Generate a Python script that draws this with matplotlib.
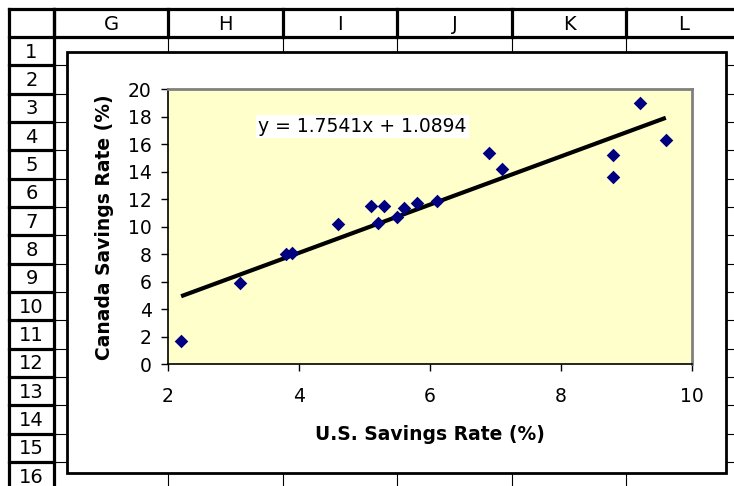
import numpy as np
import matplotlib
matplotlib.use("Agg")
import matplotlib.pyplot as plt
from matplotlib.patches import Rectangle

# data
us_rate = [2.2, 3.1, 3.8, 3.9, 4.6, 5.1, 5.2, 5.3, 5.5, 5.6, 5.8, 6.1, 6.9, 7.1, 8.8, 8.8, 9.2, 9.6]
canada_rate = [1.7, 5.9, 8.0, 8.1, 10.2, 11.5, 10.3, 11.5, 10.7, 11.4, 11.7, 11.9, 15.4, 14.2, 15.2, 13.6, 19.0, 16.3]
slope = 1.7541
intercept = 1.0894
x_ticks = [2, 4, 6, 8, 10]
y_ticks = [0, 2, 4, 6, 8, 10, 12, 14, 16, 18, 20]
col_letters = ["G", "H", "I", "J", "K", "L"]
row_numbers = list(range(1, 17))

W, H = 734, 486
fig = plt.figure(figsize=(W / 100, H / 100), dpi=100)

# spreadsheet background drawn in pixel coordinates
bg = fig.add_axes([0, 0, 1, 1])
bg.set_xlim(0, W)
bg.set_ylim(H, 0)
bg.axis("off")

col_edges = [54, 168, 283, 397, 512, 626, 741]
row_top = 37
row_h = 28.33
row_edges = [row_top + k * row_h for k in range(len(row_numbers) + 1)]

# thin cell grid
for x in col_edges[1:]:
    bg.plot([x, x], [row_top, H], color="black", lw=0.8, zorder=1)
for y in row_edges[1:]:
    bg.plot([col_edges[0], W], [y, y], color="black", lw=0.8, zorder=1)

# header lines (thick)
bg.plot([9, W], [9, 9], color="black", lw=2.3, zorder=2)
bg.plot([9, W], [row_top, row_top], color="black", lw=2.3, zorder=2)
bg.plot([9, 9], [9, H], color="black", lw=2.3, zorder=2)
for x in col_edges[:-1]:
    bg.plot([x, x], [9, row_top], color="black", lw=2.3, zorder=2)
bg.plot([col_edges[0], col_edges[0]], [9, H], color="black", lw=2.3, zorder=2)
for y in row_edges[1:]:
    bg.plot([9, col_edges[0]], [y, y], color="black", lw=2.3, zorder=2)

for i, letter in enumerate(col_letters):
    xc = (col_edges[i] + col_edges[i + 1]) / 2
    bg.text(xc, (9 + row_top) / 2 + 1, letter, ha="center", va="center", fontsize=14)
for i, num in enumerate(row_numbers):
    yc = (row_edges[i] + row_edges[i + 1]) / 2 + 1
    bg.text((9 + col_edges[0]) / 2, yc, str(num), ha="center", va="center", fontsize=14)

# chart object frame
bg.add_patch(Rectangle((66.5, 52), 659, 421, facecolor="white", edgecolor="black",
                       lw=2.0, zorder=5))

# plot area
ax = fig.add_axes([168 / W, 1 - 364.3 / H, 524 / W, 275 / H])
ax.set_facecolor("#FFFFCC")
ax.scatter(us_rate, canada_rate, marker="D", s=48, color="#000080", zorder=3, linewidths=0)

x_fit = np.array([min(us_rate), max(us_rate)])
ax.plot(x_fit, slope * x_fit + intercept, color="black", lw=3, zorder=2, solid_capstyle="butt")

ax.text(4.965, 17.29, f"y = {slope}x + {intercept}", ha="center", va="center", fontsize=13.5,
        bbox=dict(facecolor="white", edgecolor="none", pad=1.5))

ax.set_xlim(2, 10)
ax.set_ylim(0, 20)
ax.set_xticks(x_ticks)
ax.set_yticks(y_ticks)
ax.tick_params(axis="both", direction="out", length=4.8, width=1, labelsize=13.5, color="black")
ax.tick_params(axis="x", pad=11.5)
ax.tick_params(axis="y", pad=7)

for side in ["left", "bottom"]:
    ax.spines[side].set_color("black")
    ax.spines[side].set_linewidth(1.2)
for side in ["top", "right"]:
    ax.spines[side].set_color("#808080")
    ax.spines[side].set_linewidth(2)

ax.set_xlabel("U.S. Savings Rate (%)", fontsize=13.5, fontweight="bold")
ax.set_ylabel("Canada Savings Rate (%)", fontsize=13.5, fontweight="bold")
ax.xaxis.set_label_coords(0.5, -0.2225)
ax.yaxis.set_label_coords(-0.103, 0.5)

fig.savefig("out.png", dpi=100)
